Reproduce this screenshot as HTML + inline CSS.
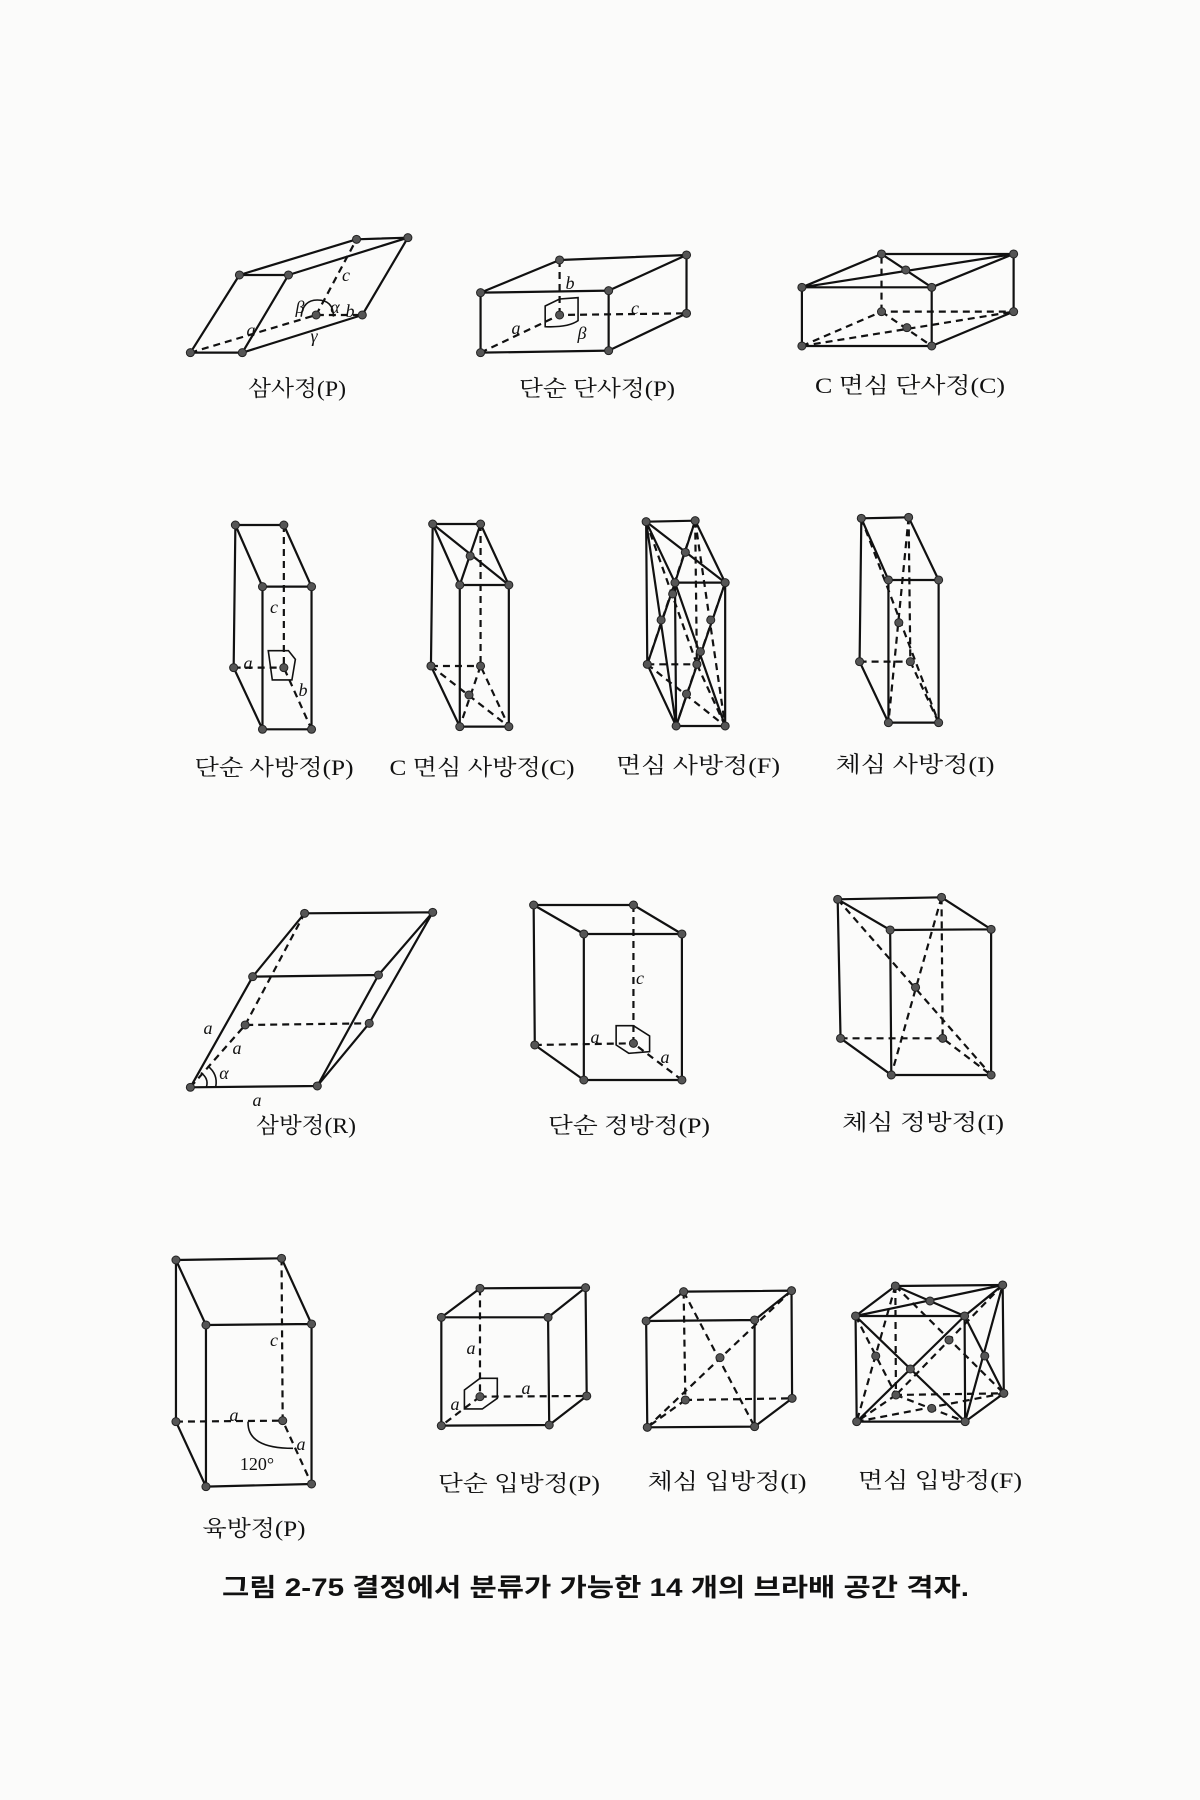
<!DOCTYPE html>
<html><head><meta charset="utf-8">
<style>
html,body{margin:0;padding:0;background:#fbfbfa;}
svg{display:block;}
.s{fill:none;stroke:#111;stroke-width:2.2;vector-effect:non-scaling-stroke;stroke-linejoin:round;}
.d{fill:none;stroke:#111;stroke-width:2.2;stroke-dasharray:7 5;vector-effect:non-scaling-stroke;}
.t{fill:none;stroke:#111;stroke-width:1.6;vector-effect:non-scaling-stroke;}
.lab{font-family:"Liberation Serif","Noto Serif CJK KR","Noto Serif CJK SC",serif;font-size:22px;fill:#111;text-anchor:middle;}
.it{font-family:"Liberation Serif",serif;font-style:italic;font-size:18px;fill:#111;text-anchor:middle;dominant-baseline:central;}
.cap{font-family:"Liberation Sans","Noto Sans CJK KR",sans-serif;font-weight:bold;font-size:25px;fill:#111;}
ellipse{fill:#555;stroke:#222;stroke-width:1;vector-effect:non-scaling-stroke;}
</style></head><body>
<svg width="1200" height="1800" viewBox="0 0 1200 1800" xmlns="http://www.w3.org/2000/svg">
<defs>
<g id="dot"><ellipse rx="7" ry="12"/></g>
</defs>

<!-- ROW 1 -->
<g transform="translate(150,200) scale(0.5769,0.3333)">
 <!-- triclinic -->
 <path class="s" d="M70,458 L160,458 L240,225 L155,225 Z M155,225 L358,118 L447,113 L240,225 M447,113 L368,345 L160,458"/>
 <path class="d" d="M70,458 L288,345 L368,345 M288,345 L358,118"/>
 <path class="t" d="M262,350 Q265,300 290,300 Q318,300 318,350"/>
 <g fill="#555"><use href="#dot" x="70" y="458"/><use href="#dot" x="160" y="458"/><use href="#dot" x="155" y="225"/><use href="#dot" x="240" y="225"/><use href="#dot" x="358" y="118"/><use href="#dot" x="447" y="113"/><use href="#dot" x="368" y="345"/><use href="#dot" x="288" y="345"/></g>
 <!-- simple monoclinic -->
 <path class="s" d="M573,278 L795,272 L795,452 L573,458 Z M573,278 L710,180 L930,165 L795,272 M930,165 L930,340 L795,452"/>
 <path class="d" d="M573,458 L710,345 L930,340 M710,345 L710,180"/>
 <path class="t" d="M685,318 L710,297 L742,293 L742,362 Q725,383 685,380 Z"/>
 <use href="#dot" x="573" y="278"/><use href="#dot" x="795" y="272"/><use href="#dot" x="573" y="458"/><use href="#dot" x="795" y="452"/><use href="#dot" x="710" y="180"/><use href="#dot" x="930" y="165"/><use href="#dot" x="930" y="340"/><use href="#dot" x="710" y="345"/>
 <!-- C monoclinic -->
 <path class="s" d="M1130,262 L1355,262 L1355,438 L1130,438 Z M1130,262 L1268,162 L1497,162 L1355,262 M1497,162 L1497,335 L1355,438 M1130,262 L1497,162 M1268,162 L1355,262"/>
 <path class="d" d="M1130,438 L1268,335 L1497,335 M1268,335 L1268,162 M1130,438 L1497,335 M1268,335 L1355,438"/>
 <use href="#dot" x="1130" y="262"/><use href="#dot" x="1355" y="262"/><use href="#dot" x="1130" y="438"/><use href="#dot" x="1355" y="438"/><use href="#dot" x="1268" y="162"/><use href="#dot" x="1497" y="162"/><use href="#dot" x="1497" y="335"/><use href="#dot" x="1268" y="335"/><use href="#dot" x="1310" y="210"/><use href="#dot" x="1312" y="383"/>
</g>
<text class="it" x="346" y="275">c</text><text class="it" x="300" y="307">β</text><text class="it" x="335" y="307">α</text><text class="it" x="350" y="311">b</text><text class="it" x="314" y="336">γ</text><text class="it" x="251" y="330">a</text>
<text class="it" x="516" y="328">a</text><text class="it" x="570" y="283">b</text><text class="it" x="635" y="308">c</text><text class="it" x="582" y="333">β</text>
<text class="lab" x="297" y="396" textLength="98" lengthAdjust="spacingAndGlyphs">삼사정(P)</text>
<text class="lab" x="597" y="396" textLength="156" lengthAdjust="spacingAndGlyphs">단순 단사정(P)</text>
<text class="lab" x="910" y="393" textLength="190" lengthAdjust="spacingAndGlyphs">C 면심 단사정(C)</text>

<!-- ROW 2 -->
<g transform="translate(150,500) scale(0.5769,0.3333)">
 <!-- ortho P -->
 <path class="s" d="M148,75 L232,75 L280,260 L195,260 Z M148,75 L145,503 L195,688 L280,688 L280,260 M195,260 L195,688"/>
 <path class="d" d="M232,75 L232,503 L280,688 M145,503 L232,503"/>
 <path class="t" d="M205,452 L240,452 L252,478 L246,540 L212,540 Z"/>
 <use href="#dot" x="148" y="75"/><use href="#dot" x="232" y="75"/><use href="#dot" x="195" y="260"/><use href="#dot" x="280" y="260"/><use href="#dot" x="145" y="503"/><use href="#dot" x="232" y="503"/><use href="#dot" x="195" y="688"/><use href="#dot" x="280" y="688"/>
 <!-- ortho C -->
 <path class="s" d="M490,72 L573,72 L622,255 L537,255 Z M490,72 L487,498 L537,680 L622,680 L622,255 M537,255 L537,680 M490,72 L622,255 M573,72 L537,255"/>
 <path class="d" d="M573,72 L573,498 L622,680 M487,498 L573,498 M487,498 L622,680 M573,498 L537,680"/>
 <use href="#dot" x="490" y="72"/><use href="#dot" x="573" y="72"/><use href="#dot" x="537" y="255"/><use href="#dot" x="622" y="255"/><use href="#dot" x="487" y="498"/><use href="#dot" x="573" y="498"/><use href="#dot" x="537" y="680"/><use href="#dot" x="622" y="680"/><use href="#dot" x="555" y="168"/><use href="#dot" x="553" y="585"/>
 <!-- ortho F -->
 <path class="s" d="M860,65 L945,62 L997,248 L910,248 Z M860,65 L862,493 L912,678 L997,678 L997,248 M910,248 L912,678 M860,65 L997,248 M945,62 L910,248 M910,248 L997,678 M997,248 L912,678 M860,65 L912,678 M910,248 L862,493"/>
 <path class="d" d="M945,62 L948,493 L997,678 M862,493 L948,493 M945,62 L997,678 M997,248 L948,493 M860,65 L948,493 M945,62 L862,493 M862,493 L997,678 M948,493 L912,678"/>
 <use href="#dot" x="860" y="65"/><use href="#dot" x="945" y="62"/><use href="#dot" x="910" y="248"/><use href="#dot" x="997" y="248"/><use href="#dot" x="862" y="493"/><use href="#dot" x="948" y="493"/><use href="#dot" x="912" y="678"/><use href="#dot" x="997" y="678"/><use href="#dot" x="928" y="157"/><use href="#dot" x="954" y="455"/><use href="#dot" x="886" y="360"/><use href="#dot" x="972" y="360"/><use href="#dot" x="906" y="282"/><use href="#dot" x="930" y="582"/>
 <!-- ortho I -->
 <path class="s" d="M1233,55 L1315,52 L1367,240 L1280,240 Z M1233,55 L1230,485 L1280,668 L1367,668 L1367,240 M1280,240 L1280,668"/>
 <path class="d" d="M1315,52 L1318,485 L1367,668 M1230,485 L1318,485 M1233,55 L1367,668 M1315,52 L1280,668"/>
 <use href="#dot" x="1233" y="55"/><use href="#dot" x="1315" y="52"/><use href="#dot" x="1280" y="240"/><use href="#dot" x="1367" y="240"/><use href="#dot" x="1230" y="485"/><use href="#dot" x="1318" y="485"/><use href="#dot" x="1280" y="668"/><use href="#dot" x="1367" y="668"/><use href="#dot" x="1298" y="368"/>
</g>
<text class="it" x="274" y="607">c</text><text class="it" x="248" y="663">a</text><text class="it" x="303" y="690">b</text>
<text class="lab" x="274" y="775" textLength="159" lengthAdjust="spacingAndGlyphs">단순 사방정(P)</text>
<text class="lab" x="482" y="775" textLength="185" lengthAdjust="spacingAndGlyphs">C 면심 사방정(C)</text>
<text class="lab" x="698" y="773" textLength="164" lengthAdjust="spacingAndGlyphs">면심 사방정(F)</text>
<text class="lab" x="915" y="772" textLength="159" lengthAdjust="spacingAndGlyphs">체심 사방정(I)</text>

<!-- ROW 3 -->
<g transform="translate(150,880) scale(0.5769,0.3333)">
 <!-- rhombohedral -->
 <path class="s" d="M70,622 L290,618 L380,430 L490,97 L268,100 L178,290 L70,622 M178,290 L396,285 L490,97 M290,618 L396,285"/>
 <path class="d" d="M70,622 L165,435 L380,430 M165,435 L268,100"/>
 <path class="t" d="M98,620 Q102,595 88,578 M114,620 Q118,582 100,558"/>
 <use href="#dot" x="70" y="622"/><use href="#dot" x="290" y="618"/><use href="#dot" x="380" y="430"/><use href="#dot" x="165" y="435"/><use href="#dot" x="178" y="290"/><use href="#dot" x="396" y="285"/><use href="#dot" x="268" y="100"/><use href="#dot" x="490" y="97"/>
 <!-- tetragonal P -->
 <path class="s" d="M665,75 L838,75 L922,162 L752,162 Z M665,75 L667,495 L752,600 L922,600 L922,162 M752,162 L752,600"/>
 <path class="d" d="M838,75 L838,490 L922,600 M667,495 L838,490"/>
 <path class="t" d="M808,437 L838,437 L866,468 L866,515 L830,520 L808,495 Z"/>
 <use href="#dot" x="665" y="75"/><use href="#dot" x="838" y="75"/><use href="#dot" x="752" y="162"/><use href="#dot" x="922" y="162"/><use href="#dot" x="667" y="495"/><use href="#dot" x="838" y="490"/><use href="#dot" x="752" y="600"/><use href="#dot" x="922" y="600"/>
 <!-- BCT -->
 <path class="s" d="M1192,58 L1372,52 L1458,148 L1283,150 Z M1192,58 L1197,475 L1285,585 L1458,585 L1458,148 M1283,150 L1285,585"/>
 <path class="d" d="M1372,52 L1374,475 L1458,585 M1197,475 L1374,475 M1192,58 L1458,585 M1372,52 L1285,585"/>
 <use href="#dot" x="1192" y="58"/><use href="#dot" x="1372" y="52"/><use href="#dot" x="1283" y="150"/><use href="#dot" x="1458" y="148"/><use href="#dot" x="1197" y="475"/><use href="#dot" x="1374" y="475"/><use href="#dot" x="1285" y="585"/><use href="#dot" x="1458" y="585"/><use href="#dot" x="1327" y="322"/>
</g>
<text class="it" x="208" y="1028">a</text><text class="it" x="237" y="1048">a</text><text class="it" x="224" y="1073">α</text><text class="it" x="257" y="1100">a</text>
<text class="it" x="640" y="978">c</text><text class="it" x="595" y="1037">a</text><text class="it" x="665" y="1057">a</text>
<text class="lab" x="306" y="1133" textLength="100" lengthAdjust="spacingAndGlyphs">삼방정(R)</text>
<text class="lab" x="629" y="1133" textLength="162" lengthAdjust="spacingAndGlyphs">단순 정방정(P)</text>
<text class="lab" x="923" y="1130" textLength="162" lengthAdjust="spacingAndGlyphs">체심 정방정(I)</text>

<!-- ROW 4 -->
<g transform="translate(150,1240) scale(0.5769,0.3333)">
 <!-- hexagonal -->
 <path class="s" d="M45,60 L228,55 L280,252 L97,255 Z M45,60 L45,545 L97,740 L280,732 L280,252 M97,255 L97,740"/>
 <path class="d" d="M228,55 L230,542 L280,732 M45,545 L230,542"/>
 <path class="t" d="M170,545 Q168,625 248,625"/>
 <use href="#dot" x="45" y="60"/><use href="#dot" x="228" y="55"/><use href="#dot" x="97" y="255"/><use href="#dot" x="280" y="252"/><use href="#dot" x="45" y="545"/><use href="#dot" x="230" y="542"/><use href="#dot" x="97" y="740"/><use href="#dot" x="280" y="732"/>
 <!-- SC -->
 <path class="s" d="M505,232 L690,232 L692,555 L505,557 Z M505,232 L572,145 L755,143 L690,232 M755,143 L757,468 L692,555"/>
 <path class="d" d="M572,145 L572,470 L757,468 M572,470 L505,557"/>
 <path class="t" d="M545,450 L572,415 L602,415 L602,475 L576,507 L545,507 Z"/>
 <use href="#dot" x="505" y="232"/><use href="#dot" x="690" y="232"/><use href="#dot" x="572" y="145"/><use href="#dot" x="755" y="143"/><use href="#dot" x="572" y="470"/><use href="#dot" x="757" y="468"/><use href="#dot" x="505" y="557"/><use href="#dot" x="692" y="555"/>
 <!-- BCC -->
 <path class="s" d="M860,243 L1048,240 L1048,560 L862,562 Z M860,243 L925,155 L1112,152 L1048,240 M1112,152 L1113,475 L1048,560"/>
 <path class="d" d="M925,155 L928,480 L1113,475 M928,480 L862,562 M925,155 L1048,560 M1112,152 L862,562"/>
 <use href="#dot" x="860" y="243"/><use href="#dot" x="1048" y="240"/><use href="#dot" x="925" y="155"/><use href="#dot" x="1112" y="152"/><use href="#dot" x="928" y="480"/><use href="#dot" x="1113" y="475"/><use href="#dot" x="862" y="562"/><use href="#dot" x="1048" y="560"/><use href="#dot" x="988" y="353"/>
 <!-- FCC -->
 <path class="s" d="M1223,228 L1412,228 L1413,545 L1225,545 Z M1223,228 L1292,138 L1478,135 L1412,228 M1478,135 L1480,460 L1413,545 M1223,228 L1478,135 M1292,138 L1412,228 M1223,228 L1413,545 M1412,228 L1225,545 M1412,228 L1480,460 M1478,135 L1413,545"/>
 <path class="d" d="M1292,138 L1293,465 L1480,460 M1293,465 L1225,545 M1223,228 L1293,465 M1292,138 L1225,545 M1292,138 L1480,460 M1478,135 L1293,465 M1225,545 L1480,460 M1293,465 L1413,545"/>
 <use href="#dot" x="1223" y="228"/><use href="#dot" x="1412" y="228"/><use href="#dot" x="1292" y="138"/><use href="#dot" x="1478" y="135"/><use href="#dot" x="1293" y="465"/><use href="#dot" x="1480" y="460"/><use href="#dot" x="1225" y="545"/><use href="#dot" x="1413" y="545"/><use href="#dot" x="1352" y="183"/><use href="#dot" x="1318" y="387"/><use href="#dot" x="1447" y="348"/><use href="#dot" x="1258" y="348"/><use href="#dot" x="1385" y="300"/><use href="#dot" x="1355" y="505"/>
</g>
<text class="it" x="274" y="1340">c</text><text class="it" x="234" y="1415">a</text><text class="it" x="301" y="1444">a</text>
<text x="257" y="1470" style="font-family:'Liberation Serif',serif;font-size:18px;fill:#111;" text-anchor="middle">120°</text>
<text class="it" x="471" y="1348">a</text><text class="it" x="526" y="1388">a</text><text class="it" x="455" y="1404">a</text>
<text class="lab" x="519" y="1491" textLength="162" lengthAdjust="spacingAndGlyphs">단순 입방정(P)</text>
<text class="lab" x="727" y="1489" textLength="159" lengthAdjust="spacingAndGlyphs">체심 입방정(I)</text>
<text class="lab" x="940" y="1488" textLength="164" lengthAdjust="spacingAndGlyphs">면심 입방정(F)</text>
<text class="lab" x="254" y="1536" textLength="103" lengthAdjust="spacingAndGlyphs">육방정(P)</text>

<text class="cap" x="222" y="1596" textLength="747" lengthAdjust="spacingAndGlyphs">그림 2-75  결정에서 분류가 가능한 14 개의 브라배 공간 격자.</text>
</svg>
</body></html>
